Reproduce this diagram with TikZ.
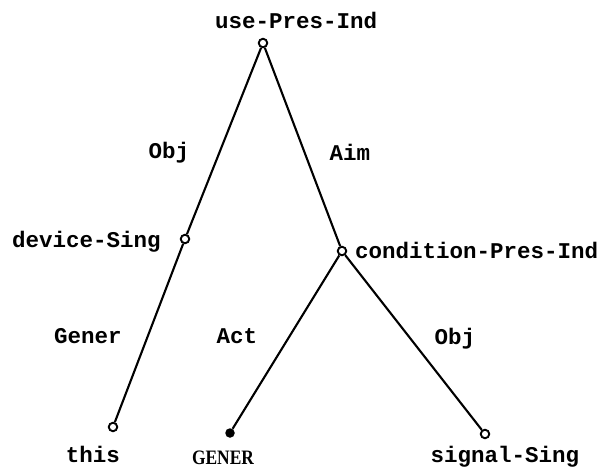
\documentclass[tikz,border=0pt]{standalone}
\usepackage{fontspec}
\setmonofont{Liberation Mono}
\newfontfamily\serifb{Liberation Serif}
\tikzset{
  lbl/.style={font=\ttfamily\bfseries\fontsize{22.5}{24}\selectfont, inner sep=0pt},
  caps/.style={font=\serifb\bfseries\fontsize{20.5}{22}\selectfont, inner sep=0pt},
  vert/.style={circle, draw, line width=1.9pt, minimum size=8.5pt, inner sep=0pt, fill=white},
  blob/.style={circle, fill, minimum size=9.5pt, inner sep=0pt},
  edge/.style={line width=2.1pt},
}
\begin{document}
\begin{tikzpicture}[x=1pt,y=-1pt]
\useasboundingbox (0,0) rectangle (614,471);
% tree vertices
\node[vert] (top) at (263,43) {};
\node[vert] (dev) at (185,239) {};
\node[vert] (cond) at (342,251) {};
\node[vert] (this) at (113,427) {};
\node[blob] (gen) at (230,433) {};
\node[vert] (sig) at (485,434) {};
% connectors
\draw[edge] (top) -- (dev);
\draw[edge] (dev) -- (this);
\draw[edge] (top) -- (cond);
\draw[edge] (cond) -- (gen);
\draw[edge] (cond) -- (sig);
% vertex texts
\node[lbl, anchor=base west] (tTop) at (215,28) {use-Pres-Ind};
\node[lbl, anchor=base west] (tDev) at (12,247) {device-Sing};
\node[lbl, anchor=base west] (tCond) at (355,258) {condition-Pres-Ind};
\node[lbl, anchor=base] (tThis) at (93,462) {this};
\node[caps, anchor=base] (tGen) at (223,464) {\scalebox{0.85}[1]{GENER}};
\node[lbl, anchor=base] (tSig) at (505,462) {signal-Sing};
% edge labels
\node[lbl, anchor=base] (eObj1) at (169,158) {Obj};
\node[lbl, anchor=base] (eAim) at (350,160) {Aim};
\node[lbl, anchor=base] (eGener) at (88,343) {Gener};
\node[lbl, anchor=base] (eAct) at (237,343) {Act};
\node[lbl, anchor=base] (eObj2) at (455,344) {Obj};
\end{tikzpicture}
\end{document}
